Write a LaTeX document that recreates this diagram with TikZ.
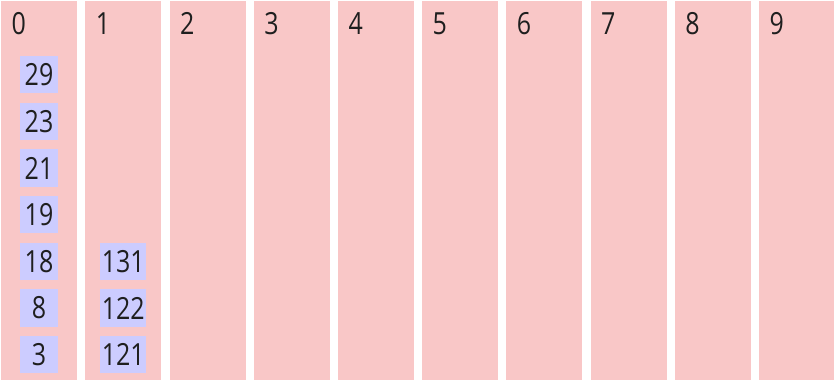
\documentclass[tikz,border=0pt]{standalone}
\usepackage{fontspec}
\setmainfont{Open Sans}[FakeStretch=0.82]
\definecolor{colpink}{RGB}{249,199,199}
\definecolor{boxblue}{RGB}{204,204,255}
\newcommand{\numfont}{\fontsize{30.5}{36}\selectfont}
\begin{document}
\begin{tikzpicture}[x=1pt,y=-1pt,
  column/.style={draw=none,fill=colpink,minimum width=76pt,minimum height=379pt,inner sep=0pt,anchor=north west},
  collabel/.style={anchor=base west,inner sep=0pt,font=\numfont,text=black!88},
  entry/.style={fill=boxblue,minimum width=38pt,minimum height=37.5pt,inner xsep=1.5pt,inner ysep=0pt,font=\numfont,text=black!88}]
\useasboundingbox (0,0) rectangle (834,381);
\fill[white] (0,0) rectangle (834,381);
\foreach \i in {0,...,9} {
  \node[column] (c\i) at ({1+84.2*\i},1) {};
  \node[collabel] (l\i) at ({1+84.2*\i+10.5},34.5) {\i};
}
\foreach \v [count=\k from 0] in {29,23,21,19,18,8,3} {
  \node[entry] (a\k) at (39,{74.7+46.67*\k}) {\v};
}
\foreach \v [count=\k from 4] in {131,122,121} {
  \node[entry] (b\k) at (123.2,{74.7+46.67*\k}) {\v};
}
\end{tikzpicture}
\end{document}
